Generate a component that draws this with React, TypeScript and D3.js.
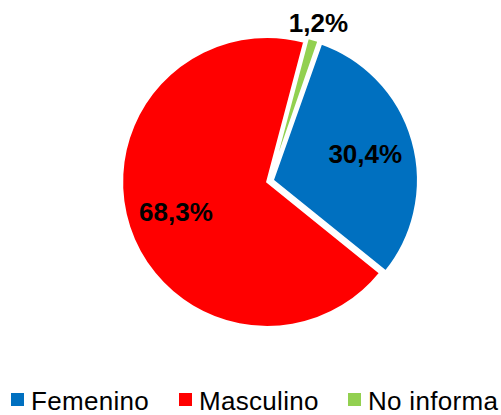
import React from 'react';
import * as d3 from 'd3';

const categories = ['Femenino', 'Masculino', 'No informa'];
const values = [30.4, 68.3, 1.2];
const labels = ['30,4%', '68,3%', '1,2%'];
const colors = ['#0070C0', '#FF0000', '#92D050'];
// etiquetas que van por fuera del sector
const outside = [false, false, true];

const W = 501;
const H = 415;
const cx = 270;
const cy = 181;
const r = 145;
const explode = 3;

export default function App() {
  const pie = d3
    .pie<number>()
    .sort(null)
    .startAngle((19.5 * Math.PI) / 180)
    .endAngle((19.5 * Math.PI) / 180 + Math.PI * 2 * (d3.sum(values) / 100))
    .value((d) => d);
  const arcs = pie(values);
  const arc = d3.arc<d3.PieArcDatum<number>>().innerRadius(0).outerRadius(r);
  const inLabel = d3.arc<d3.PieArcDatum<number>>().innerRadius(99).outerRadius(99);
  const outLabel = d3.arc<d3.PieArcDatum<number>>().innerRadius(166).outerRadius(166);

  const legendX = d3.scaleOrdinal<string, number>().domain(categories).range([11, 179, 348]);

  return (
    <svg
      width={W}
      height={H}
      style={{ position: 'absolute', left: 0, top: 0, fontFamily: 'Liberation Sans, Arial, sans-serif' }}
    >
      <rect width={W} height={H} fill="white" />
      <g transform={`translate(${cx},${cy})`}>
        {arcs.map((a, i) => {
          const mid = (a.startAngle + a.endAngle) / 2;
          const dx = Math.sin(mid) * explode;
          const dy = -Math.cos(mid) * explode;
          return (
            <path
              key={categories[i]}
              d={arc(a) ?? ''}
              transform={`translate(${dx},${dy})`}
              fill={colors[i]}
              stroke="white"
              strokeWidth={2}
            />
          );
        })}
        {arcs.map((a, i) => {
          const [x, y] = (outside[i] ? outLabel : inLabel).centroid(a);
          return (
            <text
              key={labels[i]}
              x={x}
              y={y}
              dy="0.36em"
              textAnchor="middle"
              fontWeight="bold"
              fontSize={26}
              fill="black"
            >
              {labels[i]}
            </text>
          );
        })}
      </g>
      {categories.map((c, i) => (
        <g key={c} transform={`translate(${legendX(c)},393)`}>
          <rect width={13} height={13} fill={colors[i]} />
          <text x={20} y={17} fontSize={26} letterSpacing={0.3} fill="black">
            {c}
          </text>
        </g>
      ))}
    </svg>
  );
}
